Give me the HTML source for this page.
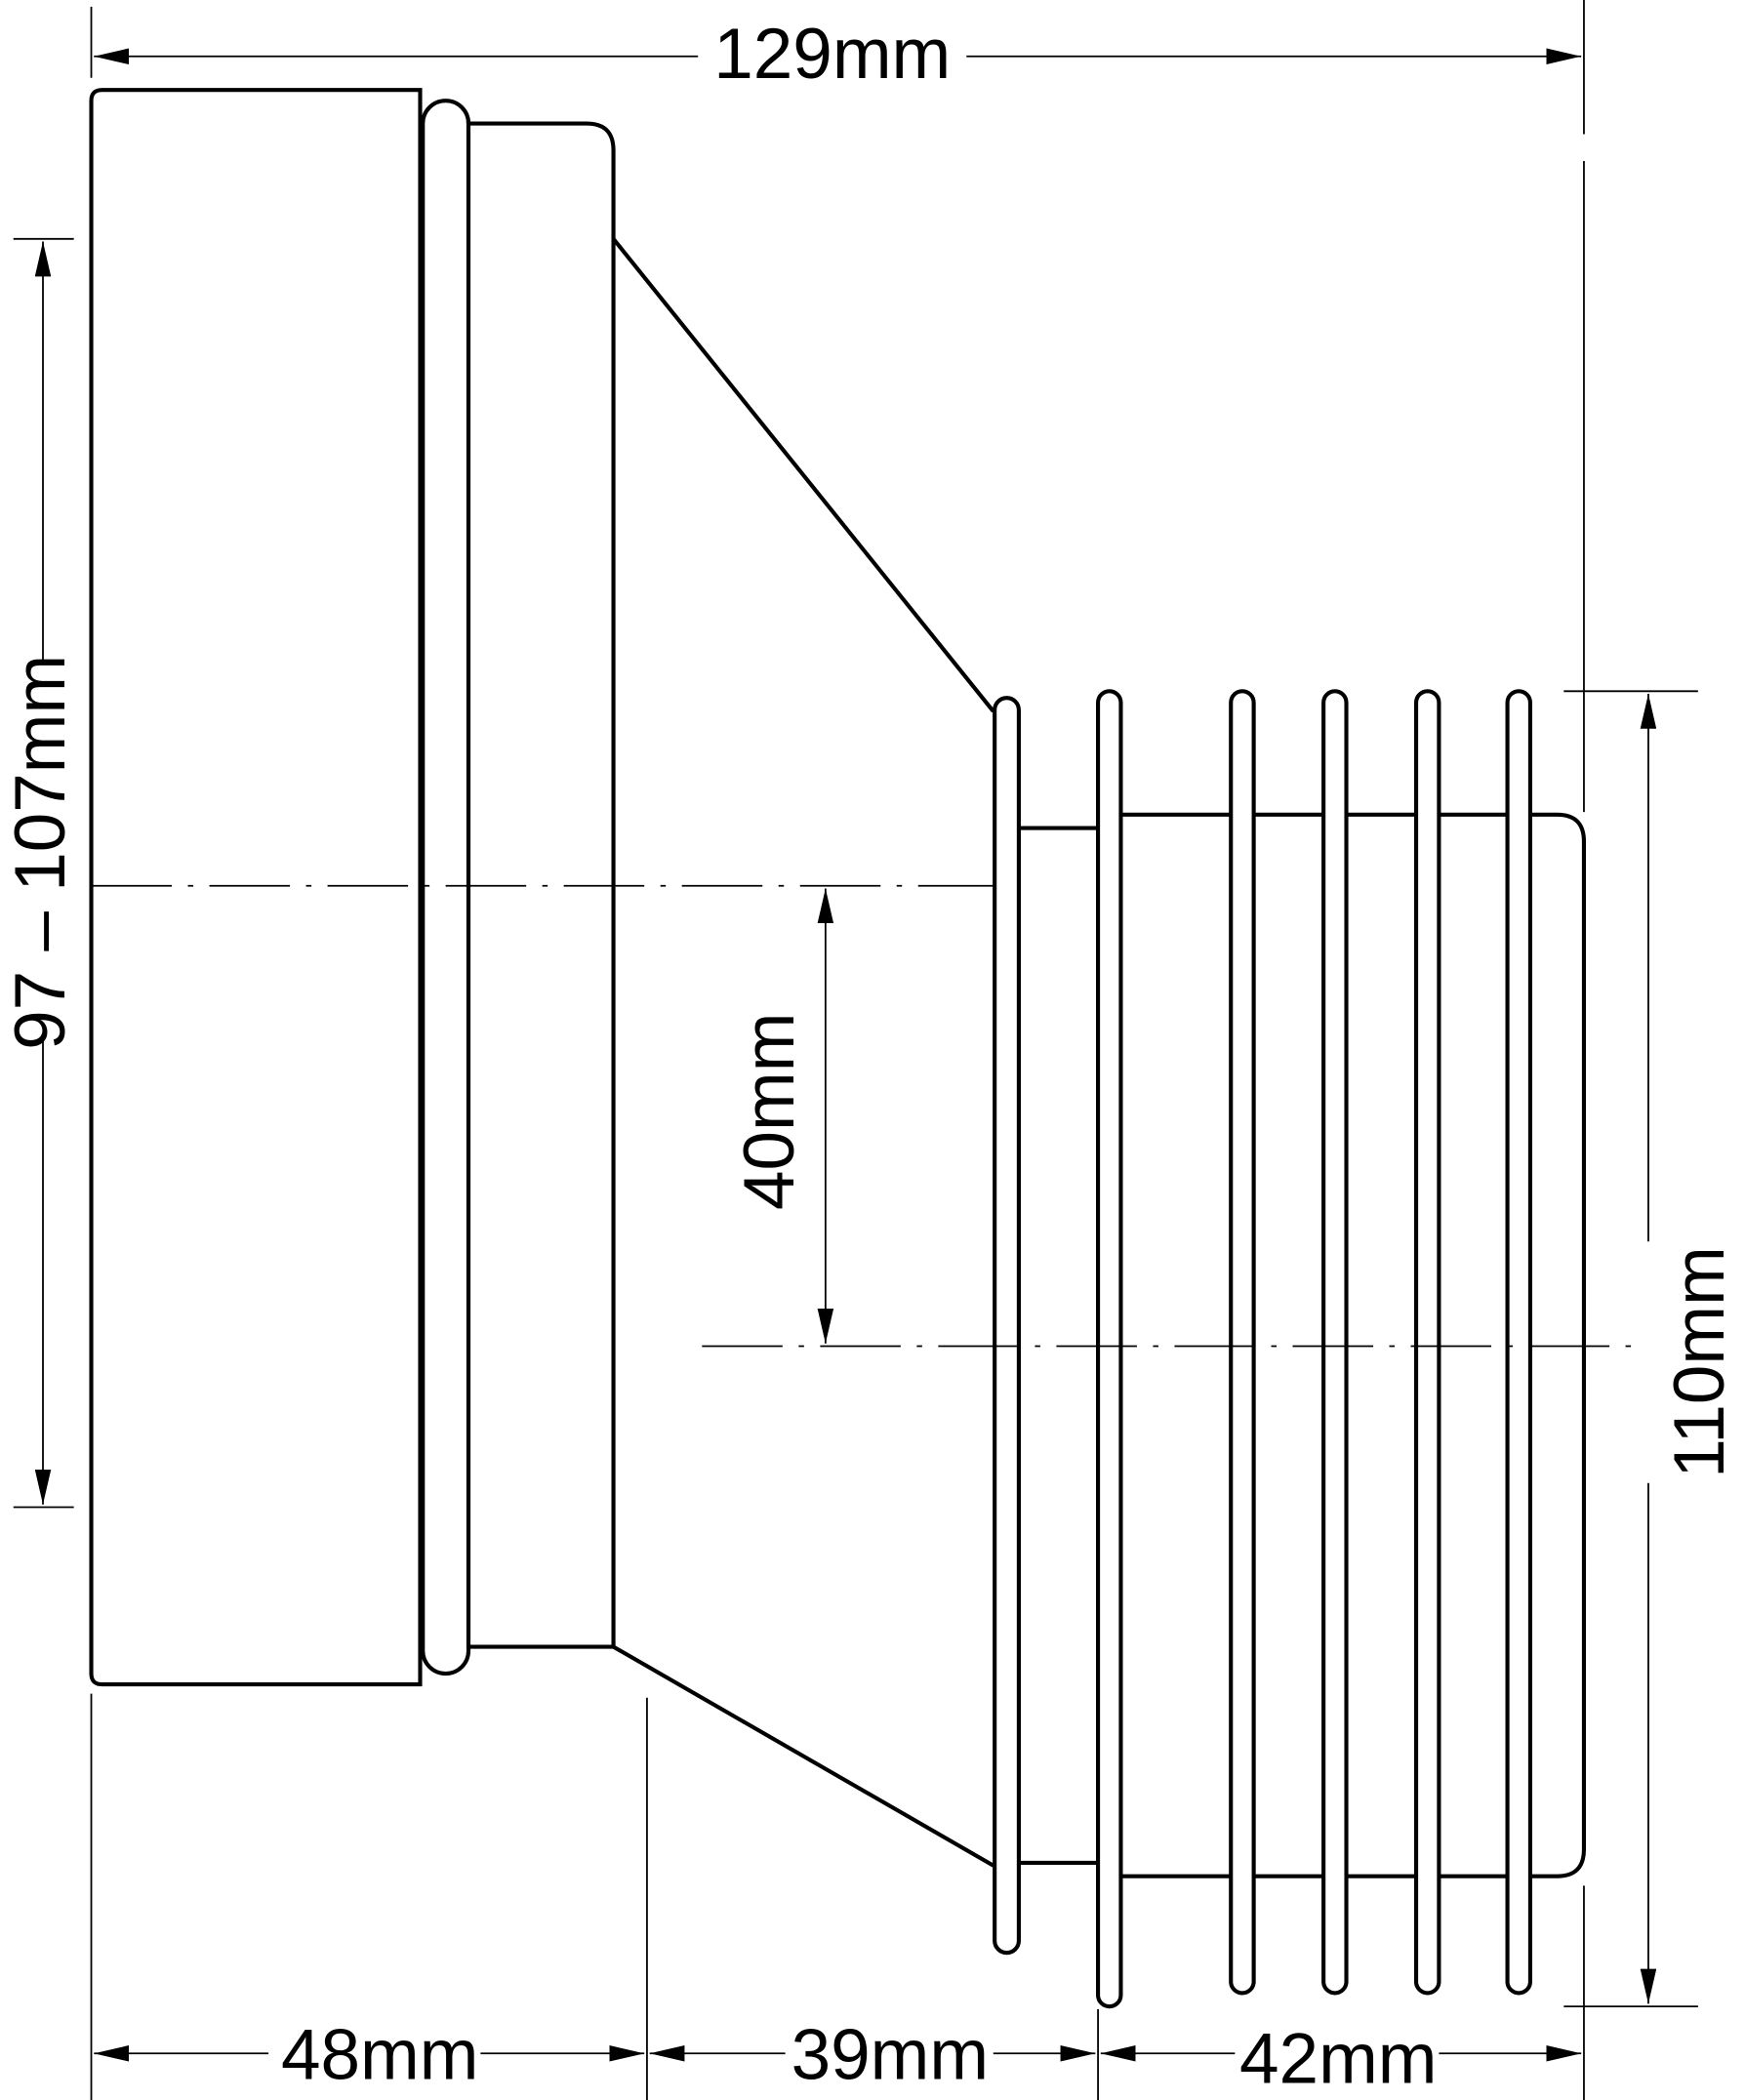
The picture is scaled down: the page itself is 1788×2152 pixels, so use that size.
<!DOCTYPE html>
<html><head><style>html,body{margin:0;padding:0;background:#fff}svg{display:block}</style></head><body>
<svg width="1788" height="2152" viewBox="0 0 1300 1564.7" preserveAspectRatio="none" xmlns="http://www.w3.org/2000/svg">
<defs>
<marker id="a" viewBox="0 0 26 12" refX="26" refY="6" markerWidth="26" markerHeight="12" markerUnits="userSpaceOnUse" orient="auto-start-reverse"><path d="M0,0 L26,6 L0,12 z" fill="#000"/></marker>
</defs>
<g fill="none" stroke="#000" stroke-width="1.3">
<line x1="68" y1="5" x2="68" y2="58"/>
<line x1="1180" y1="0" x2="1180" y2="100"/>
<line x1="1180" y1="120" x2="1180" y2="605"/>
<line x1="10" y1="178" x2="55" y2="178"/>
<line x1="10" y1="1123" x2="55" y2="1123"/>
<line x1="1165" y1="515" x2="1265" y2="515"/>
<line x1="1165" y1="1495" x2="1265" y2="1495"/>
<line x1="68" y1="1262" x2="68" y2="1567"/>
<line x1="482" y1="1265" x2="482" y2="1567"/>
<line x1="818" y1="1497" x2="818" y2="1567"/>
<line x1="1180" y1="1405" x2="1180" y2="1567"/>
<line x1="70" y1="42" x2="520" y2="42" marker-start="url(#a)"/>
<line x1="720" y1="42" x2="1178" y2="42" marker-end="url(#a)"/>
<line x1="32" y1="180" x2="32" y2="495" marker-start="url(#a)"/>
<line x1="32" y1="775" x2="32" y2="1121" marker-end="url(#a)"/>
<line x1="615" y1="662" x2="615" y2="1001" marker-start="url(#a)" marker-end="url(#a)"/>
<line x1="1228" y1="517" x2="1228" y2="925" marker-start="url(#a)"/>
<line x1="1228" y1="1105" x2="1228" y2="1493" marker-end="url(#a)"/>
<line x1="70" y1="1530" x2="200" y2="1530" marker-start="url(#a)"/>
<line x1="358" y1="1530" x2="480" y2="1530" marker-end="url(#a)"/>
<line x1="484" y1="1530" x2="585" y2="1530" marker-start="url(#a)"/>
<line x1="740" y1="1530" x2="816" y2="1530" marker-end="url(#a)"/>
<line x1="820" y1="1530" x2="920" y2="1530" marker-start="url(#a)"/>
<line x1="1072" y1="1530" x2="1178" y2="1530" marker-end="url(#a)"/>
</g>
<g fill="#fff" stroke="#000" stroke-width="3">
<path d="M313,67 L76,67 Q68,67 68,75 L68,1247 Q68,1255 76,1255 L313,1255 Z"/>
<rect x="315" y="75" width="34" height="1172" rx="17"/>
<path d="M349,92 L437,92 Q457,92 457,112 L457,1227 L349,1227 Z"/>
<path d="M457,178 L740,530 M457,1227 L740,1390" fill="none"/>
<path d="M759,617 L818,617 L818,1388 L759,1388 Z"/>
<path d="M835,607 L1160,607 Q1180,607 1180,627 L1180,1378 Q1180,1398 1160,1398 L835,1398 Z"/>
<rect x="741" y="520" width="18" height="935" rx="9"/>
<rect x="818" y="515" width="17" height="980" rx="8.5"/>
<rect x="917" y="515" width="17" height="970" rx="8.5"/>
<rect x="986" y="515" width="17" height="970" rx="8.5"/>
<rect x="1055" y="515" width="17" height="970" rx="8.5"/>
<rect x="1123" y="515" width="17" height="970" rx="8.5"/>
</g>
<g stroke="#000" stroke-width="1.3" fill="none">
<line x1="68" y1="660" x2="740" y2="660" stroke-dasharray="60,12,4,12"/>
<line x1="523" y1="1003" x2="1215" y2="1003" stroke-dasharray="60,12,4,12"/>
</g>
<g font-family="Liberation Sans, sans-serif" font-size="53" fill="#000" text-anchor="middle">
<text x="620" y="58">129mm</text>
<text x="283" y="1549">48mm</text>
<text x="663" y="1549">39mm</text>
<text x="997" y="1552">42mm</text>
<text transform="translate(48,635) rotate(-90)">97 – 107mm</text>
<text transform="translate(591,828) rotate(-90)">40mm</text>
<text transform="translate(1284,1015) rotate(-90)">110mm</text>
</g>
</svg>
</body></html>
